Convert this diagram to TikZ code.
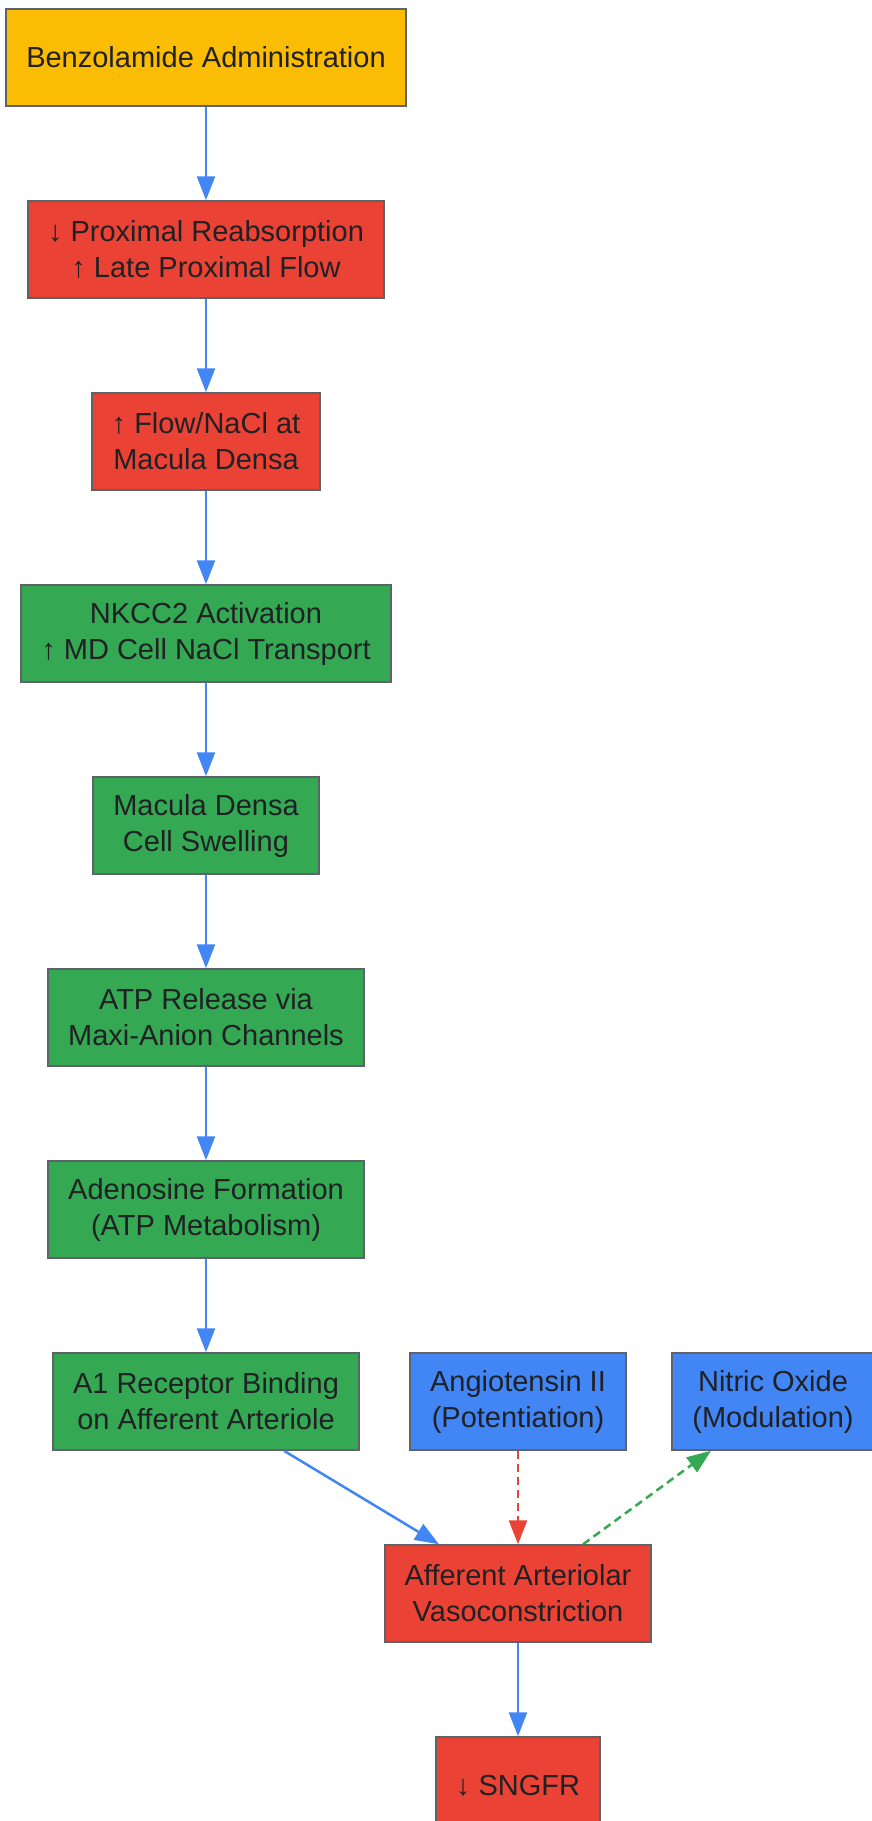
\documentclass[tikz,border=0pt]{standalone}
\usepackage{fontspec}
\setmainfont{Liberation Sans}
\usetikzlibrary{arrows.meta}

\definecolor{gyellow}{HTML}{FBBC04}
\definecolor{gred}{HTML}{EA4335}
\definecolor{ggreen}{HTML}{34A853}
\definecolor{gblue}{HTML}{4285F4}
\definecolor{gborder}{HTML}{5F6368}
\definecolor{gtext}{HTML}{202124}

\begin{document}
\begin{tikzpicture}[
    x=1pt, y=1pt,
    every node/.style={font=\fontsize{29}{36}\selectfont, text=gtext},
    sbox/.style={rectangle, draw=gborder, line width=2pt, align=center, inner xsep=20pt, minimum height=96.5pt},
    flow/.style={line width=2.5pt, gblue, -{Triangle[length=24pt, width=18pt]}},
    redflow/.style={line width=2.5pt, gred, dash pattern=on 8pt off 5pt, -{Triangle[length=24pt, width=18pt]}},
    greenflow/.style={line width=2.5pt, ggreen, dash pattern=on 8pt off 5pt, -{Triangle[length=24pt, width=18pt]}},
]

\useasboundingbox (0,0) rectangle (871,-1821);

% ================================================================
% Main chain: drug to A1 receptor binding
% ================================================================
\node[sbox, fill=gyellow] (admin) at (206, -57.5) {Benzolamide Administration};
\node[sbox, fill=gred] (prox) at (206, -249.5) {↓ Proximal Reabsorption\\↑ Late Proximal Flow};
\node[sbox, fill=gred] (md) at (206, -441.5) {↑ Flow/NaCl at\\Macula Densa};
\node[sbox, fill=ggreen] (nkcc) at (206, -633.5) {NKCC2 Activation\\↑ MD Cell NaCl Transport};
\node[sbox, fill=ggreen] (swell) at (206, -825.5) {Macula Densa\\Cell Swelling};
\node[sbox, fill=ggreen] (atp) at (206, -1017.5) {ATP Release via\\Maxi-Anion Channels};
\node[sbox, fill=ggreen] (ado) at (206, -1209.5) {Adenosine Formation\\(ATP Metabolism)};
\node[sbox, fill=ggreen] (aone) at (206, -1401.5) {A1 Receptor Binding\\on Afferent Arteriole};

% ================================================================
% Modulators and outcome
% ================================================================
\node[sbox, fill=gblue] (angio) at (518, -1401.5) {Angiotensin II\\(Potentiation)};
\node[sbox, fill=gblue] (nitric) at (773, -1401.5) {Nitric Oxide\\(Modulation)};
\node[sbox, fill=gred] (vaso) at (518, -1593.5) {Afferent Arteriolar\\Vasoconstriction};
\node[sbox, fill=gred] (sngfr) at (518, -1785.5) {↓ SNGFR};

% Connectors
\draw[flow] (admin.south) -- (prox.north);
\draw[flow] (prox.south) -- (md.north);
\draw[flow] (md.south) -- (nkcc.north);
\draw[flow] (nkcc.south) -- (swell.north);
\draw[flow] (swell.south) -- (atp.north);
\draw[flow] (atp.south) -- (ado.north);
\draw[flow] (ado.south) -- (aone.north);
\draw[flow] ([xshift=78pt]aone.south) -- ([xshift=-79pt]vaso.north);
\draw[redflow] (angio.south) -- (vaso.north);
\draw[greenflow] ([xshift=65pt]vaso.north) -- ([xshift=-62pt]nitric.south);
\draw[flow] (vaso.south) -- (sngfr.north);

\end{tikzpicture}
\end{document}
